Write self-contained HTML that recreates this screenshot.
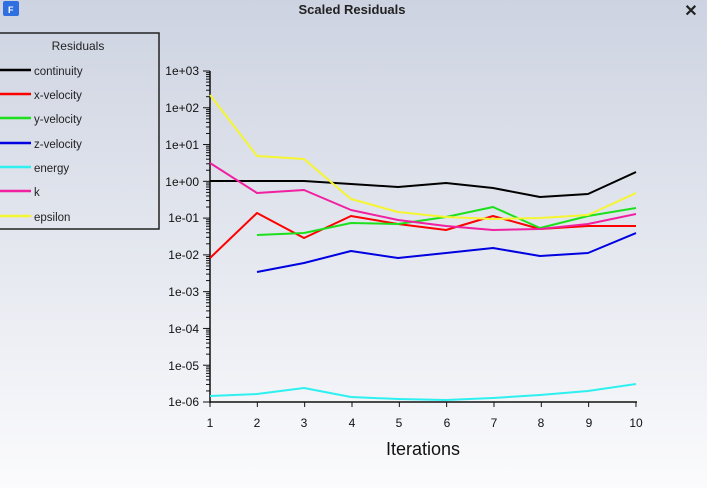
<!DOCTYPE html><html><head><style>body{margin:0;width:707px;height:488px;overflow:hidden;background:linear-gradient(#cdd3e1,#e6e9f0 55%,#fbfbfd);font-family:"Liberation Sans",sans-serif}</style></head><body>
<svg width="707" height="488" style="position:absolute;left:0;top:0" font-family="Liberation Sans, sans-serif">
<rect x="3" y="1" width="16" height="15" rx="2" fill="#2f6fe0"/><text x="8" y="13" font-size="9" fill="#fff" font-weight="bold">F</text>
<text x="352" y="14" font-size="13" font-weight="bold" text-anchor="middle" fill="#222">Scaled Residuals</text>
<text x="691" y="16" font-size="16" font-weight="bold" text-anchor="middle" fill="#222">✕</text>
<rect x="-2" y="33" width="161" height="196" fill="none" stroke="#222" stroke-width="1.5"/>
<text x="78" y="50" font-size="12" text-anchor="middle" fill="#222">Residuals</text>
<g font-size="11.5" fill="#222" stroke-width="2.5">
<line x1="0" x2="31" y1="70" y2="70" stroke="#000"/><text x="34" y="75" stroke="none">continuity</text>
<line x1="0" x2="31" y1="94" y2="94" stroke="#f00"/><text x="34" y="99" stroke="none">x-velocity</text>
<line x1="0" x2="31" y1="118" y2="118" stroke="#1ce01c"/><text x="34" y="123" stroke="none">y-velocity</text>
<line x1="0" x2="31" y1="143" y2="143" stroke="#0000e0"/><text x="34" y="148" stroke="none">z-velocity</text>
<line x1="0" x2="31" y1="167" y2="167" stroke="#2ff0f0"/><text x="34" y="172" stroke="none">energy</text>
<line x1="0" x2="31" y1="191" y2="191" stroke="#f020a0"/><text x="34" y="196" stroke="none">k</text>
<line x1="0" x2="31" y1="216" y2="216" stroke="#f5f530"/><text x="34" y="221" stroke="none">epsilon</text>
</g>
<g stroke="#111" stroke-width="1.5"><line x1="210" y1="71" x2="210" y2="403"/><line x1="210" y1="402" x2="637" y2="402"/></g>
<g id="t" stroke="#111" stroke-width="1"></g>
<g font-size="12" fill="#111" text-anchor="end">
<text x="199" y="75">1e+03</text><text x="199" y="112">1e+02</text><text x="199" y="149">1e+01</text><text x="199" y="186">1e+00</text><text x="199" y="222">1e-01</text><text x="199" y="259">1e-02</text><text x="199" y="296">1e-03</text><text x="199" y="333">1e-04</text><text x="199" y="370">1e-05</text><text x="199" y="406">1e-06</text>
</g>
<g font-size="12" fill="#111" text-anchor="middle">
<text x="210" y="427">1</text><text x="257" y="427">2</text><text x="304" y="427">3</text><text x="352" y="427">4</text><text x="399" y="427">5</text><text x="447" y="427">6</text><text x="494" y="427">7</text><text x="541" y="427">8</text><text x="589" y="427">9</text><text x="636" y="427">10</text>
</g>
<text x="423" y="455" font-size="18" text-anchor="middle" fill="#111">Iterations</text>
<g fill="none" stroke-width="2" stroke-linejoin="round">
<polyline stroke="#000" points="210,181 257,181 304,181 351,184 398,187 446,183 493,188 540,197 588,194 636,172"/>
<polyline stroke="#f00" points="210,258 257,213 304,238 351,216 398,224 446,230 493,216 540,229 588,226 636,226"/>
<polyline stroke="#1ce01c" points="257,235 304,233 351,223 398,224 446,217 493,207 540,228 588,216 636,208"/>
<polyline stroke="#0000e0" points="257,272 304,263 351,251 398,258 446,253 493,248 540,256 588,253 636,233"/>
<polyline stroke="#2ff0f0" points="210,396 257,394 304,388 351,397 398,399 446,400 493,398 540,395 588,391 636,384"/>
<polyline stroke="#f020a0" points="210,163 257,193 304,190 351,210 398,220 446,226 493,230 540,229 588,224 636,214"/>
<polyline stroke="#f5f530" points="210,95 257,156 304,159 351,199 398,212 446,217 493,219 540,218 588,215 636,193"/>
</g>
</svg>
<script>
var g=document.getElementById('t'),s='';
for(var d=0;d<9;d++){var y0=402-d*36.78;s+='<line x1="203" x2="210" y1="'+y0+'" y2="'+y0+'"/>';for(var m=2;m<10;m++){var y=y0-Math.log10(m)*36.78;s+='<line x1="206" x2="210" y1="'+y+'" y2="'+y+'"/>';}}
s+='<line x1="203" x2="210" y1="71" y2="71"/>';
for(var i=0;i<10;i++){var x=210+i*47.33;s+='<line x1="'+x+'" x2="'+x+'" y1="402" y2="407"/>';}
g.innerHTML=s;
</script>
</body></html>
